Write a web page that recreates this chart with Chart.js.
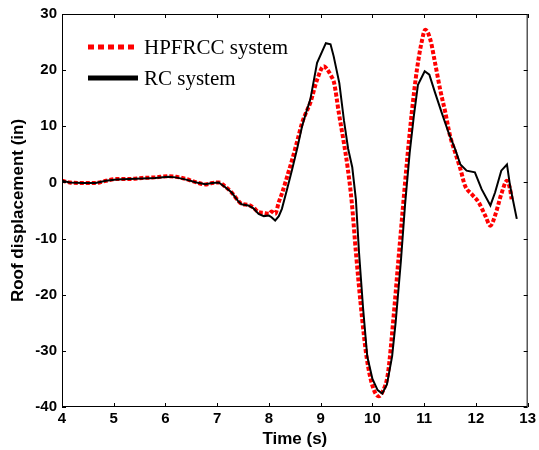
<!DOCTYPE html>
<html>
<head>
<meta charset="utf-8">
<script src="https://cdn.jsdelivr.net/npm/chart.js@4.4.0/dist/chart.umd.min.js"></script>
<style>
  html, body { margin: 0; padding: 0; background: #fff; }
  #wrap { width: 539px; height: 450px; position: relative; }
</style>
</head>
<body>
<div id="wrap"><canvas id="roofChart"></canvas></div>
<script>
// time histories
const hpfrccTime = [4.0, 4.15, 4.4, 4.65, 4.85, 5.05, 5.3, 5.55, 5.8, 6.05, 6.2, 6.4, 6.6, 6.77, 6.9, 7.03, 7.15, 7.28, 7.4, 7.47,
  7.6, 7.7, 7.8, 7.9, 8.0, 8.05, 8.12, 8.19, 8.25, 8.35, 8.45, 8.55, 8.64, 8.72, 8.8, 8.93, 9.06, 9.12, 9.2, 9.26,
  9.35, 9.44, 9.52, 9.6, 9.68, 9.8, 9.89, 10.0, 10.12, 10.2, 10.3, 10.4, 10.5, 10.57, 10.67, 10.76, 10.86, 10.96, 11.02, 11.12,
  11.21, 11.31, 11.41, 11.5, 11.6, 11.7, 11.79, 11.92, 12.05, 12.18, 12.28, 12.37, 12.5, 12.6, 12.66, 12.69];
const hpfrccDisp = [0.3, 0.0, -0.1, -0.1, 0.3, 0.6, 0.6, 0.8, 0.9, 1.1, 1.0, 0.6, 0.0, -0.35, -0.1, 0.0, -0.7, -1.8, -3.2, -3.8,
  -4.0, -4.5, -5.3, -5.4, -5.6, -5.2, -5.6, -3.5, -2.0, 1.0, 4.1, 7.5, 10.6, 12.5, 14.2, 18.3, 20.7, 20.2, 19.0, 17.7,
  12.4, 7.5, 2.7, -3.5, -12.4, -24.2, -31.3, -36.2, -38.1, -37.2, -34.0, -24.8, -14.0, -6.5, 4.0, 12.4, 20.1, 25.4, 27.2, 25.4,
  21.3, 16.5, 12.4, 8.3, 5.3, 2.4, -0.6, -2.1, -3.5, -5.9, -7.7, -5.9, -1.8, 0.3, -1.2, -3.0];

const rcTime = [4.0, 4.15, 4.4, 4.65, 4.85, 5.05, 5.3, 5.55, 5.8, 6.05, 6.2, 6.4, 6.6, 6.77, 6.9, 7.03, 7.15, 7.28, 7.4, 7.47,
  7.6, 7.7, 7.8, 7.9, 8.0, 8.05, 8.12, 8.19, 8.25, 8.35, 8.45, 8.55, 8.64, 8.72, 8.8, 8.93, 9.1, 9.19, 9.25, 9.36,
  9.45, 9.53, 9.61, 9.68, 9.74, 9.82, 9.9, 10.0, 10.1, 10.19, 10.28, 10.38, 10.45, 10.55, 10.63, 10.72, 10.8, 10.88, 11.01, 11.1,
  11.21, 11.34, 11.47, 11.6, 11.7, 11.82, 11.98, 12.11, 12.28, 12.37, 12.49, 12.6, 12.66, 12.79];
const rcDisp = [0.3, 0.0, -0.1, -0.1, 0.3, 0.5, 0.6, 0.7, 0.8, 1.0, 0.9, 0.5, 0.0, -0.3, -0.1, 0.0, -0.8, -1.8, -3.3, -3.9,
  -4.1, -4.6, -5.6, -6.0, -5.9, -6.2, -6.8, -6.0, -4.7, -1.2, 2.4, 6.2, 10.0, 12.5, 14.8, 21.3, 24.8, 24.6, 22.5, 17.7,
  11.0, 6.0, 2.7, -3.0, -12.4, -22.5, -31.0, -35.0, -37.0, -37.6, -36.0, -31.0, -24.8, -14.0, -4.0, 5.3, 11.8, 17.4, 19.8, 19.2,
  16.0, 12.4, 8.9, 5.9, 3.2, 2.1, 1.8, -1.2, -4.1, -1.8, 2.1, 3.2, -0.6, -6.5];

const seriesLabels = ["HPFRCC system", "RC system"];
const xTicks = [4, 5, 6, 7, 8, 9, 10, 11, 12, 13];
const yTicks = [-40, -30, -20, -10, 0, 10, 20, 30];

function toPoints(xs, ys) {
  return xs.map((x, i) => ({ x: x, y: ys[i] }));
}

const sansBold = { family: "'Liberation Sans', Arial, sans-serif", weight: "bold", size: 15 };
const titleBold = { family: "'Liberation Sans', Arial, sans-serif", weight: "bold", size: 17 };

// inward ticks on all four sides + frame
const frameTicks = {
  id: "frameTicks",
  afterDraw(chart) {
    const ctx = chart.ctx;
    const a = chart.chartArea;
    const xs = chart.scales.x, ys = chart.scales.y;
    const len = 4;
    ctx.save();
    ctx.strokeStyle = "#000";
    ctx.lineWidth = 1;
    ctx.strokeRect(a.left + 0.5, a.top + 0.5, a.right - a.left - 1, a.bottom - a.top - 1);
    ctx.beginPath();
    xTicks.forEach(v => {
      const px = Math.round(xs.getPixelForValue(v)) + 0.5;
      ctx.moveTo(px, a.bottom); ctx.lineTo(px, a.bottom - len);
      ctx.moveTo(px, a.top); ctx.lineTo(px, a.top + len);
    });
    yTicks.forEach(v => {
      const py = Math.round(ys.getPixelForValue(v)) + 0.5;
      ctx.moveTo(a.left, py); ctx.lineTo(a.left + len, py);
      ctx.moveTo(a.right, py); ctx.lineTo(a.right - len, py);
    });
    ctx.stroke();
    ctx.restore();
  }
};

// legend drawn inside the axes, no box
const insideLegend = {
  id: "insideLegend",
  afterDraw(chart) {
    const ctx = chart.ctx;
    const sets = chart.data.datasets;
    const rows = [47, 78];
    ctx.save();
    ctx.font = "21px 'Liberation Serif', 'Times New Roman', serif";
    ctx.textBaseline = "middle";
    ctx.fillStyle = "#000";
    sets.forEach((ds, i) => {
      const y = rows[i];
      ctx.beginPath();
      ctx.strokeStyle = ds.borderColor;
      ctx.lineWidth = 5;
      ctx.setLineDash(ds.borderDash.length ? [6, 4] : []);
      ctx.moveTo(88, y); ctx.lineTo(138, y);
      ctx.stroke();
      ctx.setLineDash([]);
      ctx.fillText(ds.label, 144, y + 1);
    });
    ctx.restore();
  }
};

const ctx = document.getElementById("roofChart").getContext("2d");
const chart = new Chart(ctx, {
  type: "scatter",
  data: {
    datasets: [
      {
        label: seriesLabels[0],
        data: toPoints(hpfrccTime, hpfrccDisp),
        showLine: true,
        borderColor: "#ff0000",
        borderWidth: 4,
        borderDash: [4, 2],
        borderCapStyle: "butt",
        pointRadius: 0,
        cubicInterpolationMode: "monotone",
        order: 2,
      },
      {
        label: seriesLabels[1],
        data: toPoints(rcTime, rcDisp),
        showLine: true,
        borderColor: "#000000",
        borderWidth: 2,
        borderDash: [],
        pointRadius: 0,
        tension: 0,
        order: 1,
      },
    ],
  },
  options: {
    responsive: true,
    maintainAspectRatio: false,
    animation: false,
    layout: { padding: { top: 12, right: 10, left: 0, bottom: 0 } },
    plugins: {
      legend: { display: false },
      tooltip: { enabled: false },
    },
    scales: {
      x: {
        type: "linear",
        min: 4,
        max: 13,
        afterBuildTicks: s => { s.ticks = xTicks.map(v => ({ value: v })); },
        afterFit: s => { s.height = 43; },
        grid: { display: false, drawTicks: false },
        border: { display: false },
        ticks: { color: "#000", font: sansBold, padding: 3, maxRotation: 0 },
        title: { display: true, text: "Time (s)", color: "#000", font: titleBold, padding: { top: 0, bottom: 0 } },
      },
      y: {
        type: "linear",
        min: -40,
        max: 30,
        afterBuildTicks: s => { s.ticks = yTicks.map(v => ({ value: v })); },
        afterFit: s => { s.width = 62; },
        grid: { display: false, drawTicks: false },
        border: { display: false },
        ticks: { color: "#000", font: sansBold, padding: 5 },
        title: { display: true, text: "Roof displacement (in)", color: "#000", font: titleBold, padding: { top: 8, bottom: 0 } },
      },
    },
  },
  plugins: [frameTicks, insideLegend],
});
</script>
</body>
</html>
